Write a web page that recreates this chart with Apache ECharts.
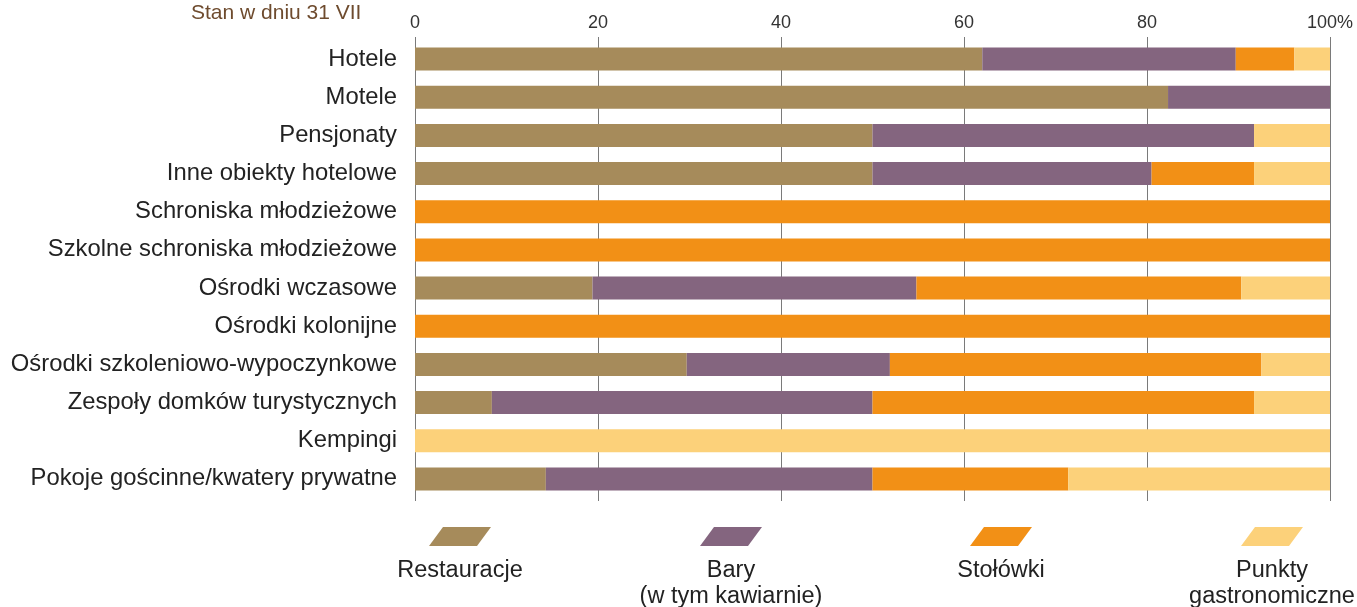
<!DOCTYPE html>
<html>
<head>
<meta charset="utf-8">
<script src="https://cdn.jsdelivr.net/npm/echarts@6/dist/echarts.min.js"></script>
<style>
html,body{margin:0;padding:0;background:#fff;}
#chart{width:1357px;height:607px;}
</style>
</head>
<body>
<div id="chart"></div>
<script>
const categories = [
  'Hotele', 'Motele', 'Pensjonaty', 'Inne obiekty hotelowe',
  'Schroniska młodzieżowe', 'Szkolne schroniska młodzieżowe',
  'Ośrodki wczasowe', 'Ośrodki kolonijne',
  'Ośrodki szkoleniowo-wypoczynkowe', 'Zespoły domków turystycznych',
  'Kempingi', 'Pokoje gościnne/kwatery prywatne'
];
const restauracje = [62.0, 82.3, 50.0, 50.0, 0, 0, 19.4, 0, 29.7, 8.4, 0, 14.3];
const bary        = [27.7, 17.7, 41.7, 30.5, 0, 0, 35.4, 0, 22.2, 41.6, 0, 35.7];
const stolowki    = [6.4, 0, 0, 11.2, 100, 100, 35.5, 100, 40.6, 41.7, 0, 21.4];
const punkty      = [3.9, 0, 8.3, 8.3, 0, 0, 9.7, 0, 7.5, 8.3, 100, 28.6];
const seriesNames = ['Restauracje', 'Bary', 'Stołówki', 'Punkty gastronomiczne'];
const legendLabels = ['Restauracje', 'Bary\n(w tym kawiarnie)', 'Stołówki', 'Punkty\ngastronomiczne'];
const xTicks = [0, 20, 40, 60, 80, 100];
const colors = ['#a68b5b', '#84657f', '#f29016', '#fcd17a'];
const FONT = "'Liberation Sans', Arial, sans-serif";

const chart = echarts.init(document.getElementById('chart'));
const seriesData = [restauracje, bary, stolowki, punkty];

const legendX = [460, 731, 1001, 1272];
const graphics = [{
  type: 'text', left: 191, top: 3,
  style: { text: 'Stan w dniu 31 VII', font: '21px ' + FONT, fill: '#6e4b2e' }
}];
seriesNames.forEach((n, i) => {
  graphics.push({
    type: 'polygon',
    shape: { points: [[legendX[i] - 17, 527], [legendX[i] + 31, 527], [legendX[i] + 17, 546], [legendX[i] - 31, 546]] },
    style: { fill: colors[i] }
  });
  graphics.push({
    type: 'text', x: legendX[i], y: 558,
    style: { text: legendLabels[i], font: '23.5px ' + FONT, fill: '#222', align: 'center', verticalAlign: 'top', lineHeight: 26 }
  });
});

chart.setOption({
  animation: false,
  color: colors,
  grid: { left: 415, right: 27, top: 40, height: 458 },
  xAxis: [{
    type: 'value', position: 'top', min: 0, max: 100, interval: 20,
    axisLine: { show: false },
    axisTick: { show: true, length: 3, lineStyle: { color: '#7a7a7a' } },
    axisLabel: {
      margin: 8, fontSize: 18, color: '#333', fontFamily: FONT,
      formatter: v => xTicks.indexOf(v) >= 0 ? (v === 100 ? '100%' : String(v)) : ''
    },
    splitLine: { show: true, lineStyle: { color: '#7a7a7a', width: 1 } }
  }, {
    type: 'value', position: 'bottom', min: 0, max: 100, interval: 20,
    axisLine: { show: false },
    axisTick: { show: true, length: 3, lineStyle: { color: '#7a7a7a' } },
    axisLabel: { show: false },
    splitLine: { show: false }
  }],
  yAxis: {
    type: 'category', data: categories, inverse: true,
    axisLine: { show: false }, axisTick: { show: false },
    axisLabel: { margin: 18, fontSize: 23.8, color: '#222', fontFamily: FONT, padding: [6, 0, 0, 0] }
  },
  series: seriesNames.map((n, i) => ({
    name: n, type: 'bar', stack: 'total', xAxisIndex: 0,
    barWidth: 23, data: seriesData[i],
    itemStyle: { color: colors[i] }
  })),
  graphic: graphics
});
</script>
</body>
</html>
